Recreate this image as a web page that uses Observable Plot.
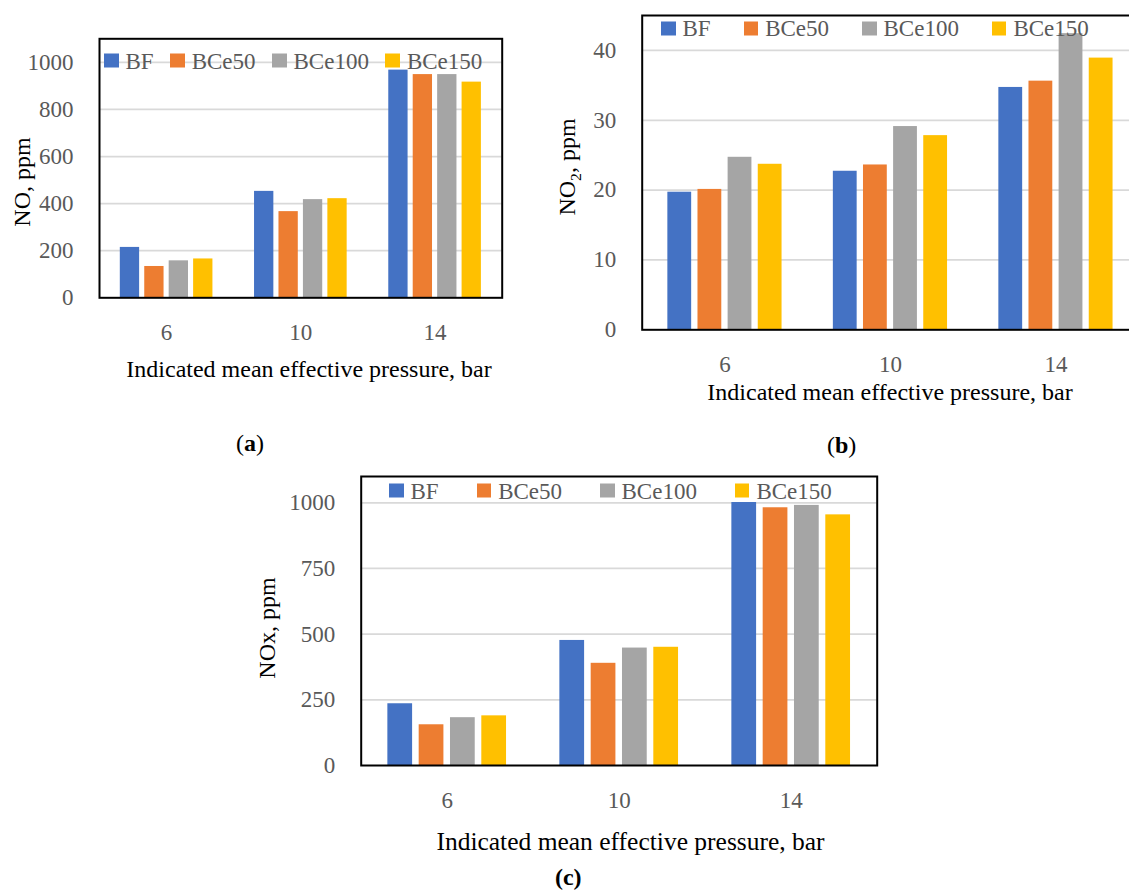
<!DOCTYPE html>
<html>
<head>
<meta charset="utf-8">
<script src="https://cdn.jsdelivr.net/npm/d3@7"></script>
<script src="https://cdn.jsdelivr.net/npm/@observablehq/plot@0.6"></script>
<style>
  html, body { margin: 0; padding: 0; background: #fff; overflow: hidden; }
  #page { position: relative; width: 1129px; height: 892px; overflow: hidden; font-family: "Liberation Serif", "Times New Roman", serif; }
  .layer { position: absolute; left: 0; top: 0; }
  .layer svg { overflow: visible; max-width: none !important; }
  .abs { position: absolute; white-space: nowrap; line-height: 1; }
  .legend { position: absolute; display: flex; align-items: center; white-space: nowrap; color: #595959; font-size: 23px; line-height: 1; transform: translateY(-50%); }
  .legend .item { display: flex; align-items: center; }
  .legend .sw { width: 14.5px; height: 14.5px; margin-right: 7px; display: inline-block; }
</style>
</head>
<body>
<div id="page"></div>
<script>
// ---------------- data ----------------
const pressures = ["6", "10", "14"];
const fuels = ["BF", "BCe50", "BCe100", "BCe150"];
const fuelColors = ["#4472C4", "#ED7D31", "#A5A5A5", "#FFC000"];

// (a) NO, ppm
const noBF     = [214, 452, 967];
const noBCe50  = [133, 366, 948];
const noBCe100 = [157, 417, 948];
const noBCe150 = [165, 421, 916];
const noTicks  = [0, 200, 400, 600, 800, 1000];

// (b) NO2, ppm
const no2BF     = [19.7, 22.7, 34.7];
const no2BCe50  = [20.1, 23.6, 35.6];
const no2BCe100 = [24.7, 29.1, 42.4];
const no2BCe150 = [23.7, 27.8, 38.9];
const no2Ticks  = [0, 10, 20, 30, 40];

// (c) NOx, ppm
const noxBF     = [235, 476, 1001];
const noxBCe50  = [155, 389, 981];
const noxBCe100 = [182, 447, 990];
const noxBCe150 = [189, 450, 954];
const noxTicks  = [0, 250, 500, 750, 1000];

const xTitle = "Indicated mean effective pressure, bar";

function rowsOf(seriesArrays) {
  const rows = [];
  fuels.forEach((f, i) => pressures.forEach((p, j) => rows.push({ group: p, series: f, value: seriesArrays[i][j] })));
  return rows;
}

// ---------------- layout ----------------
const page = document.getElementById("page");
const FONT = '"Liberation Serif", "Times New Roman", serif';

function panel(cfg) {
  const { left, top, width, height, mL, mR, mT, mB, yMax, ticks, rows } = cfg;
  const common = { width, height, marginLeft: mL, marginRight: mR, marginTop: mT, marginBottom: mB };
  const style = { fontFamily: FONT, fontSize: "23px", color: "#595959", background: "transparent", overflow: "visible", maxWidth: "none" };

  // grid + y axis layer
  const g = Plot.plot({
    ...common, style,
    y: { domain: [0, yMax], axis: null },
    marks: [
      Plot.ruleY(ticks.filter(v => v > 0), { stroke: "#d9d9d9", strokeWidth: 1.75 }),
      Plot.axisY(ticks, { tickSize: 0, tickPadding: 26, label: null, fill: "#595959", tickFormat: d => String(d) })
    ]
  });
  // bars layer (faceted by pressure)
  const b = Plot.plot({
    ...common, style,
    facet: { data: rows, x: "group" },
    fx: { domain: pressures, paddingInner: 0.31, paddingOuter: 0.155, round: false, axis: "bottom", label: null, tickSize: 0, tickPadding: 26 },
    x: { domain: fuels, paddingInner: 0.21, paddingOuter: 0, round: false, axis: null },
    y: { domain: [0, yMax], axis: null },
    color: { domain: fuels, range: fuelColors },
    marks: [
      Plot.barY(rows, { x: "series", y: "value", fill: "series", inset: 0 })
    ]
  });
  // frame layer
  const f = Plot.plot({
    ...common, style,
    marks: [Plot.frame({ stroke: "#000", strokeWidth: 2 })]
  });
  for (const svg of [g, b, f]) {
    const d = document.createElement("div");
    d.className = "layer";
    d.style.left = left + "px";
    d.style.top = top + "px";
    d.style.width = width + "px";
    d.style.height = height + "px";
    svg.style.maxWidth = "none";
    svg.style.width = width + "px";
    svg.style.height = height + "px";
    d.appendChild(svg);
    page.appendChild(d);
  }

  // legend
  const lg = document.createElement("div");
  lg.className = "legend";
  lg.style.left = cfg.legendX + "px";
  lg.style.top = cfg.legendY + "px";
  fuels.forEach((fu, i) => {
    const it = document.createElement("span");
    it.className = "item";
    if (i > 0) it.style.marginLeft = cfg.legendGap + "px";
    const sw = document.createElement("span");
    sw.className = "sw";
    sw.style.background = fuelColors[i];
    const tx = document.createElement("span");
    tx.textContent = fu;
    it.appendChild(sw); it.appendChild(tx);
    lg.appendChild(it);
  });
  page.appendChild(lg);

  // y title
  const yt = document.createElement("div");
  yt.className = "abs";
  yt.innerHTML = cfg.yTitle;
  yt.style.fontSize = "24px";
  yt.style.color = "#000";
  yt.style.left = cfg.yTitleX + "px";
  yt.style.top = cfg.yTitleY + "px";
  yt.style.transform = "translate(-50%, -50%) rotate(-90deg)";
  page.appendChild(yt);

  // x title
  const xt = document.createElement("div");
  xt.className = "abs";
  xt.textContent = xTitle;
  xt.style.fontSize = cfg.xTitleSize + "px";
  xt.style.color = "#000";
  xt.style.left = cfg.xTitleX + "px";
  xt.style.top = cfg.xTitleY + "px";
  xt.style.transform = "translate(-50%, -50%)";
  page.appendChild(xt);

  // sub label
  const sl = document.createElement("div");
  sl.className = "abs";
  sl.innerHTML = cfg.tag;
  sl.style.fontSize = "24px";
  sl.style.color = "#000";
  sl.style.left = cfg.tagX + "px";
  sl.style.top = cfg.tagY + "px";
  sl.style.transform = "translate(-50%, -50%)";
  page.appendChild(sl);
}

panel({
  left: 0, top: 0, width: 520, height: 360, mL: 99, mR: 18.3, mT: 38.3, mB: 62.7,
  yMax: 1100, ticks: noTicks, rows: rowsOf([noBF, noBCe50, noBCe100, noBCe150]),
  legendX: 104, legendY: 60.5, legendGap: 16.5,
  yTitle: "NO, ppm", yTitleX: 21.7, yTitleY: 181.7,
  xTitleX: 309, xTitleY: 369, xTitleSize: 24,
  tag: "(<b>a</b>)", tagX: 250, tagY: 442.5
});

panel({
  left: 540, top: 0, width: 620, height: 390, mL: 101.7, mR: 21.8, mT: 15, mB: 60.7,
  yMax: 45, ticks: no2Ticks, rows: rowsOf([no2BF, no2BCe50, no2BCe100, no2BCe150]),
  legendX: 661, legendY: 28.3, legendGap: 33,
  yTitle: "NO<sub style=\"font-size:0.65em\">2</sub>, ppm", yTitleX: 569, yTitleY: 167,
  xTitleX: 890, xTitleY: 392, xTitleSize: 24,
  tag: "(<b>b</b>)", tagX: 841.7, tagY: 445
});

panel({
  left: 260, top: 440, width: 640, height: 390, mL: 100.7, mR: 23.3, mT: 36, mB: 65,
  yMax: 1100, ticks: noxTicks, rows: rowsOf([noxBF, noxBCe50, noxBCe100, noxBCe150]),
  legendX: 389, legendY: 490.5, legendGap: 38,
  yTitle: "NOx, ppm", yTitleX: 266.5, yTitleY: 628,
  xTitleX: 630.5, xTitleY: 842, xTitleSize: 25.5,
  tag: "<b>(c)</b>", tagX: 568.3, tagY: 877
});
</script>
</body>
</html>
